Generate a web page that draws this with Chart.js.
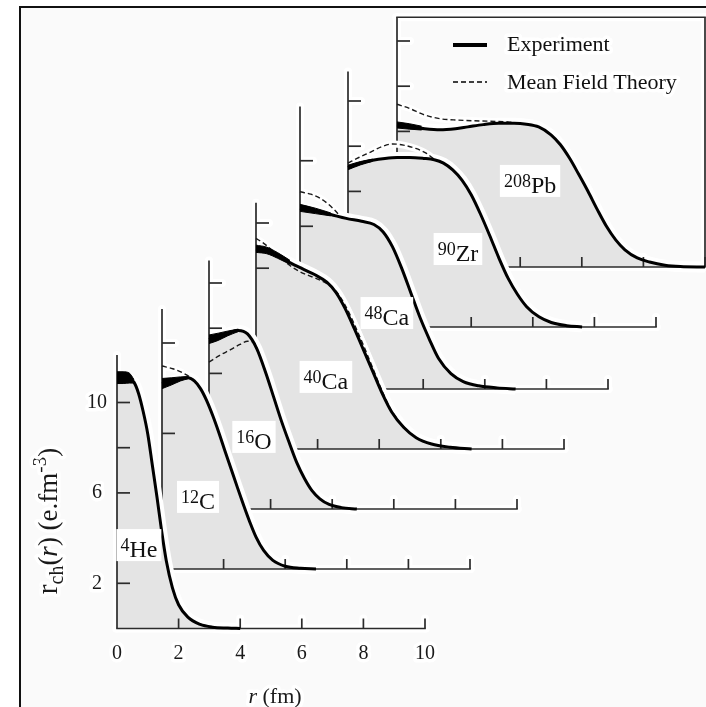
<!DOCTYPE html>
<html>
<head>
<meta charset="utf-8">
<title>Charge densities</title>
<script src="https://cdn.jsdelivr.net/npm/chart.js@4.4.1/dist/chart.umd.min.js"></script>
<style>
  html, body { margin: 0; padding: 0; background: #ffffff; }
  #wrap { width: 706px; height: 707px; }
  canvas { display: block; }
</style>
</head>
<body>
<div id="wrap"><canvas id="chart" width="706" height="707"></canvas></div>
<script>
// =======================
// DATA (r in fm, density in units of 1e-2 e.fm^-3)
// =======================
const massNumbers = ["4", "12", "16", "40", "48", "90", "208"];
const symbols = ["He", "C", "O", "Ca", "Ca", "Zr", "Pb"];
const xTicks = [2, 4, 6, 8, 10];
const xTickLabels = ["0", "2", "4", "6", "8", "10"];
const yTickLabels = ["2", "6", "10"];

// 4He
const heR = [0, 0.2, 0.4, 0.55, 0.7, 0.85, 1.0, 1.15, 1.3, 1.45, 1.6, 1.8, 2.0, 2.3, 2.7, 3.1, 3.6, 4.0];
const heRho = [11.1, 11.1, 11.05, 10.9, 10.4, 9.6, 8.6, 7.2, 5.8, 4.3, 3.0, 1.8, 1.05, 0.5, 0.18, 0.06, 0.02, 0];
const heBandR = [0, 0.2, 0.4, 0.55];
const heBandHi = [11.36, 11.36, 11.3, 11.02];
const heBandLo = [10.84, 10.84, 10.86, 10.86];
const heYTicks = [2, 4, 6, 8, 10];

// 12C
const cR = [0, 0.3, 0.6, 0.85, 1.05, 1.25, 1.45, 1.65, 1.85, 2.05, 2.25, 2.45, 2.65, 2.85, 3.05, 3.3, 3.6, 4.0, 4.5, 5.0];
const cRho = [8.2, 8.3, 8.42, 8.46, 8.32, 7.98, 7.45, 6.78, 6.02, 5.2, 4.4, 3.6, 2.82, 2.08, 1.42, 0.82, 0.38, 0.12, 0.03, 0];
const cBandR = [0, 0.3, 0.6, 0.85];
const cBandHi = [8.43, 8.46, 8.5, 8.51];
const cBandLo = [7.98, 8.14, 8.32, 8.42];
const cThR = [0, 0.35, 0.7, 0.9, 1.05, 1.25];
const cThRho = [8.98, 8.86, 8.66, 8.5, 8.32, 7.98];
const cYTicks = [6, 10];

// 16O
const oR = [0, 0.3, 0.6, 0.95, 1.25, 1.55, 1.85, 2.1, 2.35, 2.6, 2.85, 3.1, 3.35, 3.6, 3.9, 4.3, 4.8];
const oRho = [7.5, 7.62, 7.78, 7.9, 7.75, 7.1, 6.0, 4.95, 3.9, 2.95, 2.05, 1.35, 0.8, 0.45, 0.2, 0.06, 0];
const oBandR = [0, 0.3, 0.6, 0.95];
const oBandHi = [7.7, 7.78, 7.87, 7.96];
const oBandLo = [7.32, 7.46, 7.66, 7.85];
const oThR = [0, 0.35, 0.7, 1.0, 1.25, 1.45, 1.6];
const oThRho = [6.5, 6.8, 7.05, 7.28, 7.42, 7.38, 6.95];
const oYTicks = [6, 8, 10];

// 40Ca
const ca40R = [0, 0.35, 0.7, 1.1, 1.5, 1.9, 2.3, 2.6, 2.9, 3.2, 3.5, 3.8, 4.1, 4.4, 4.8, 5.2, 5.7, 6.3, 7.0];
const ca40Rho = [8.85, 8.78, 8.55, 8.25, 7.98, 7.72, 7.38, 6.92, 6.2, 5.3, 4.35, 3.4, 2.45, 1.65, 0.95, 0.5, 0.22, 0.08, 0];
const ca40BandR = [0, 0.35, 0.7, 1.1];
const ca40BandHi = [9.02, 8.93, 8.69, 8.35];
const ca40BandLo = [8.7, 8.64, 8.44, 8.17];
const ca40ThR = [0, 0.25, 0.5, 0.8, 1.1, 1.4, 1.7, 2.0, 2.3, 2.6, 2.9, 3.2, 3.5, 3.8, 4.1, 4.4, 4.8, 5.2, 5.7];
const ca40ThRho = [9.32, 9.1, 8.82, 8.45, 8.12, 7.86, 7.68, 7.52, 7.32, 6.98, 6.35, 5.5, 4.55, 3.55, 2.55, 1.7, 0.98, 0.5, 0.22];
const ca40YTicks = [8, 10];

// 48Ca
const ca48R = [0, 0.5, 1.0, 1.5, 2.0, 2.4, 2.7, 3.0, 3.3, 3.6, 3.9, 4.2, 4.5, 4.9, 5.3, 5.8, 6.4, 7.0];
const ca48Rho = [8.0, 7.88, 7.72, 7.55, 7.42, 7.28, 6.95, 6.3, 5.35, 4.25, 3.15, 2.2, 1.35, 0.68, 0.33, 0.14, 0.05, 0];
const ca48BandR = [0, 0.5, 1.0];
const ca48BandHi = [8.17, 8.0, 7.79];
const ca48BandLo = [7.86, 7.76, 7.66];
const ca48ThR = [0, 0.35, 0.65, 0.9, 1.1, 1.3];
const ca48ThRho = [8.73, 8.62, 8.44, 8.2, 7.95, 7.66];
const ca48YTicks = [7.2, 10.1];

// 90Zr
const zrR = [0, 0.4, 0.8, 1.2, 1.6, 2.0, 2.45, 2.8, 3.1, 3.4, 3.7, 4.0, 4.3, 4.6, 4.9, 5.2, 5.5, 5.8, 6.2, 6.6, 7.1, 7.6];
const zrRho = [7.05, 7.25, 7.38, 7.46, 7.5, 7.5, 7.46, 7.4, 7.25, 6.95, 6.5, 5.85, 5.0, 4.05, 3.05, 2.15, 1.45, 0.9, 0.45, 0.2, 0.06, 0];
const zrBandR = [0, 0.4, 0.8];
const zrBandHi = [7.16, 7.32, 7.43];
const zrBandLo = [6.96, 7.17, 7.33];
const zrThR = [0, 0.35, 0.75, 1.1, 1.45, 1.8, 2.2, 2.55, 2.8];
const zrThRho = [7.25, 7.5, 7.75, 7.98, 8.1, 8.05, 7.9, 7.68, 7.42];
const zrYTicks = [6, 8, 10];

// 208Pb
const pbR = [0, 0.5, 0.9, 1.4, 1.9, 2.3, 2.8, 3.3, 3.8, 4.2, 4.6, 5.0, 5.3, 5.6, 5.9, 6.2, 6.5, 6.8, 7.1, 7.4, 7.8, 8.2, 8.7, 9.2, 10];
const pbRho = [6.28, 6.2, 6.12, 6.07, 6.12, 6.2, 6.3, 6.36, 6.36, 6.32, 6.2, 5.85, 5.42, 4.82, 4.1, 3.35, 2.55, 1.8, 1.2, 0.76, 0.4, 0.22, 0.08, 0.02, 0];
const pbBandR = [0, 0.4, 0.8];
const pbBandHi = [6.42, 6.34, 6.23];
const pbBandLo = [6.15, 6.1, 6.06];
const pbThR = [0, 0.4, 0.85, 1.4, 2.0, 2.5, 3.0, 3.6, 3.9];
const pbThRho = [7.2, 7.02, 6.75, 6.56, 6.5, 6.47, 6.45, 6.42, 6.37];
const pbYTicks = [2, 4, 6, 8, 10];

// =======================
// LAYOUT (pixels), front panel first
// =======================
const W = 706, H = 707;
const PX_PER_FM = 30.8;
const PX_PER_RHO = 22.6;
const panelOrigin = [[117, 628.5], [162, 569], [209, 509], [256, 449], [300, 389], [348, 327], [397, 267]];
const axisTop = [12.1, 11.5, 11.0, 10.9, 12.5, 11.3, 11.05];
const labelAt = [[0.71, 3.69], [1.17, 3.19], [1.46, 3.19], [2.27, 3.19], [2.82, 3.36], [3.57, 3.45], [4.32, 3.81]];
const SERIF = '"Liberation Serif", "DejaVu Serif", serif';
const FILL_GRAY = "#e4e4e4";

const panels = [
    { r: heR, rho: heRho, bandR: heBandR, bandHi: heBandHi, bandLo: heBandLo, thR: null, thRho: null, yTicks: heYTicks },
    { r: cR, rho: cRho, bandR: cBandR, bandHi: cBandHi, bandLo: cBandLo, thR: cThR, thRho: cThRho, yTicks: cYTicks },
    { r: oR, rho: oRho, bandR: oBandR, bandHi: oBandHi, bandLo: oBandLo, thR: oThR, thRho: oThRho, yTicks: oYTicks },
    { r: ca40R, rho: ca40Rho, bandR: ca40BandR, bandHi: ca40BandHi, bandLo: ca40BandLo, thR: ca40ThR, thRho: ca40ThRho, yTicks: ca40YTicks },
    { r: ca48R, rho: ca48Rho, bandR: ca48BandR, bandHi: ca48BandHi, bandLo: ca48BandLo, thR: ca48ThR, thRho: ca48ThRho, yTicks: ca48YTicks },
    { r: zrR, rho: zrRho, bandR: zrBandR, bandHi: zrBandHi, bandLo: zrBandLo, thR: zrThR, thRho: zrThRho, yTicks: zrYTicks },
    { r: pbR, rho: pbRho, bandR: pbBandR, bandHi: pbBandHi, bandLo: pbBandLo, thR: pbThR, thRho: pbThRho, yTicks: pbYTicks, boxed: true }
];

const pts = (xs, ys) => xs.map((x, k) => ({ x: x, y: ys[k] }));

// =======================
// SCALES & DATASETS
// =======================
const scales = { x: { display: false }, y: { display: false } };
const datasets = [];

panels.forEach((p, i) => {
    const [ox, oy] = panelOrigin[i];
    scales["x" + i] = { type: "linear", display: false, min: -ox / PX_PER_FM, max: (W - ox) / PX_PER_FM };
    scales["y" + i] = { type: "linear", display: false, min: -(H - oy) / PX_PER_RHO, max: oy / PX_PER_RHO };

    const common = {
        xAxisID: "x" + i,
        yAxisID: "y" + i,
        pointRadius: 0,
        cubicInterpolationMode: "monotone",
        panel: i
    };
    const base = i * 10;

    datasets.push({ ...common, role: "halo", axesHalo: true, data: pts(p.r, p.rho),
        borderColor: "#ffffff", borderWidth: 11, fill: false, order: base + 9 });
    if (p.thR) {
        datasets.push({ ...common, role: "halo", data: pts(p.thR, p.thRho),
            borderColor: "#ffffff", borderWidth: 7, fill: false, order: base + 9 });
    }
    datasets.push({ ...common, role: "fill", data: pts(p.r, p.rho),
        borderColor: "rgba(0,0,0,0)", borderWidth: 0, backgroundColor: FILL_GRAY, fill: "origin", order: base + 8 });
    if (p.thR) {
        datasets.push({ ...common, role: "theory", data: pts(p.thR, p.thRho),
            borderColor: "#1a1a1a", borderWidth: 1.4, borderDash: [5, 3], fill: false, order: base + 6 });
    }
    datasets.push({ ...common, role: "band", data: pts(p.bandR, p.bandHi),
        borderColor: "#000", borderWidth: 1, backgroundColor: "#000", fill: "+1", order: base + 4 });
    datasets.push({ ...common, role: "band", data: pts(p.bandR, p.bandLo),
        borderColor: "#000", borderWidth: 1, fill: false, order: base + 4 });
    datasets.push({ ...common, role: "exp", data: pts(p.r, p.rho),
        borderColor: "#000", borderWidth: 3, fill: false, order: base + 2 });
});

// =======================
// DRAW HELPERS
// =======================
function strokeLine(ctx, x1, y1, x2, y2) {
    ctx.beginPath();
    ctx.moveTo(x1, y1);
    ctx.lineTo(x2, y2);
    ctx.stroke();
}

function drawPanelAxes(chart, i, halo) {
    const ctx = chart.ctx;
    const xs = chart.scales["x" + i];
    const ys = chart.scales["y" + i];
    const X = v => xs.getPixelForValue(v);
    const Y = v => ys.getPixelForValue(v);
    const top = axisTop[i];

    ctx.save();
    ctx.strokeStyle = halo ? "#ffffff" : "#2b2b2b";
    ctx.lineWidth = halo ? 8 : 1.7;
    ctx.lineCap = halo ? "round" : "butt";
    strokeLine(ctx, X(0), Y(0), X(0), Y(top));
    strokeLine(ctx, X(0) - 0.8, Y(0), X(10) + 0.8, Y(0));
    xTicks.forEach(v => strokeLine(ctx, X(v), Y(0), X(v), Y(0) - 10));
    panels[i].yTicks.forEach(v => strokeLine(ctx, X(0), Y(v), X(0) + 13, Y(v)));
    if (panels[i].boxed) {
        strokeLine(ctx, X(0) - 0.8, Y(top), X(10) + 0.8, Y(top));
        strokeLine(ctx, X(10), Y(0), X(10), Y(top));
    }
    ctx.restore();
}

// segments: [text, font, dy]
function drawRich(ctx, segs, x, y, halo) {
    let total = 0;
    segs.forEach(s => { ctx.font = s[1]; total += ctx.measureText(s[0]).width; });
    let cx = x - total / 2;
    segs.forEach(s => {
        ctx.font = s[1];
        if (halo) {
            ctx.strokeStyle = "#ffffff";
            ctx.lineWidth = 7;
            ctx.lineJoin = "round";
            ctx.strokeText(s[0], cx, y + s[2]);
        }
        ctx.fillText(s[0], cx, y + s[2]);
        cx += ctx.measureText(s[0]).width;
    });
    return total;
}

function drawNucleusLabel(chart, i) {
    const ctx = chart.ctx;
    const cx = chart.scales["x" + i].getPixelForValue(labelAt[i][0]);
    const cy = chart.scales["y" + i].getPixelForValue(labelAt[i][1]);
    const supFont = "18px " + SERIF;
    const mainFont = "24px " + SERIF;

    ctx.save();
    ctx.font = supFont;
    const wSup = ctx.measureText(massNumbers[i]).width;
    ctx.font = mainFont;
    const wSym = ctx.measureText(symbols[i]).width;
    const w = wSup + wSym;
    ctx.fillStyle = "#ffffff";
    ctx.fillRect(cx - w / 2 - 4, cy - 16, w + 8, 32);
    ctx.fillStyle = "#111";
    ctx.textBaseline = "alphabetic";
    drawRich(ctx, [[massNumbers[i], supFont, -6], [symbols[i], mainFont, 0]], cx, cy + 12, false);
    ctx.restore();
}

function drawOverlay(chart) {
    const ctx = chart.ctx;
    const xs = chart.scales.x0;
    const ys = chart.scales.y0;

    ctx.save();
    // frame
    ctx.strokeStyle = "#111";
    ctx.lineWidth = 2;
    strokeLine(ctx, 20, 7, 20, H);
    strokeLine(ctx, 19, 7, W, 7);

    // main tick labels
    ctx.fillStyle = "#1a1a1a";
    ctx.textBaseline = "middle";
    ctx.textAlign = "left";
    xTickLabels.forEach(t => {
        const v = parseFloat(t);
        drawRich(ctx, [[t, "20px " + SERIF, 0]], xs.getPixelForValue(v), ys.getPixelForValue(0) + 25, true);
    });
    yTickLabels.forEach(t => {
        const v = parseFloat(t);
        drawRich(ctx, [[t, "20px " + SERIF, 0]], 97, ys.getPixelForValue(v), true);
    });

    // axis titles
    ctx.textBaseline = "alphabetic";
    drawRich(ctx, [["r", "italic 22px " + SERIF, 0], [" (fm)", "22px " + SERIF, 0]], 275, 703, true);

    ctx.save();
    ctx.translate(57, 521);
    ctx.rotate(-Math.PI / 2);
    drawRich(ctx, [
        ["r", "29px " + SERIF, 0],
        ["ch", "20px " + SERIF, 6],
        ["(", "27px " + SERIF, 0],
        ["r", "italic 27px " + SERIF, 0],
        [") (e.fm", "27px " + SERIF, 0],
        ["-3", "19px " + SERIF, -11],
        [")", "27px " + SERIF, 0]
    ], 0, 0, true);
    ctx.restore();

    // legend
    ctx.strokeStyle = "#000";
    ctx.lineWidth = 4;
    strokeLine(ctx, 453, 45, 487, 45);
    ctx.lineWidth = 1.4;
    ctx.setLineDash([5, 3]);
    strokeLine(ctx, 453, 82, 487, 82);
    ctx.setLineDash([]);
    ctx.textAlign = "left";
    ctx.fillStyle = "#111";
    ctx.font = "22px " + SERIF;
    ctx.strokeStyle = "#ffffff";
    ctx.lineWidth = 7;
    ctx.lineJoin = "round";
    ctx.strokeText("Experiment", 507, 51);
    ctx.fillText("Experiment", 507, 51);
    ctx.strokeText("Mean Field Theory", 507, 89);
    ctx.fillText("Mean Field Theory", 507, 89);
    ctx.restore();
}

const panelPlugin = {
    id: "panels",
    beforeDraw(chart) {
        const ctx = chart.ctx;
        ctx.save();
        ctx.fillStyle = "#ffffff";
        ctx.fillRect(0, 0, W, H);
        ctx.fillStyle = "#fafafa";
        ctx.fillRect(21, 8, W - 21, H - 8);
        ctx.restore();
    },
    beforeDatasetDraw(chart, args) {
        const ds = chart.data.datasets[args.index];
        if (ds.axesHalo) drawPanelAxes(chart, ds.panel, true);
    },
    afterDatasetDraw(chart, args) {
        const ds = chart.data.datasets[args.index];
        if (ds.role === "fill") drawPanelAxes(chart, ds.panel, false);
        if (ds.role === "exp") drawNucleusLabel(chart, ds.panel);
    },
    afterDraw(chart) {
        drawOverlay(chart);
    }
};

// =======================
// CHART
// =======================
const chart = new Chart(document.getElementById("chart").getContext("2d"), {
    type: "line",
    data: { datasets: datasets },
    options: {
        responsive: false,
        animation: false,
        devicePixelRatio: 1,
        events: [],
        layout: { padding: 0 },
        scales: scales,
        plugins: {
            legend: { display: false },
            tooltip: { enabled: false },
            filler: { propagate: false }
        }
    },
    plugins: [panelPlugin]
});
</script>
</body>
</html>
